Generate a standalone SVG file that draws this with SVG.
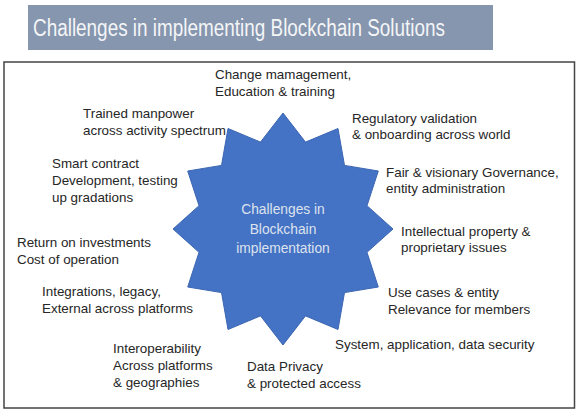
<svg xmlns="http://www.w3.org/2000/svg" width="583" height="416" viewBox="0 0 583 416">
<style>
.lbl{font-family:"Liberation Sans",Arial,sans-serif;font-size:13.4px;fill:#262626}
.ctr{font-family:"Liberation Sans",Arial,sans-serif;font-size:13.8px;fill:#dde3ee;text-anchor:middle}
</style>
<rect width="583" height="416" fill="#ffffff"/>
<g id="title">
<rect x="28" y="5" width="465" height="45" fill="#8696ae"/>
<text x="33" y="35.5" font-family="'Liberation Sans',Arial,sans-serif" font-size="23" fill="#f4f5f7" textLength="412" lengthAdjust="spacingAndGlyphs">Challenges in implementing Blockchain Solutions</text>
</g>
<rect id="frame" x="4" y="62" width="570.5" height="346" fill="none" stroke="#444" stroke-width="1.5"/>
<g id="connectors"/>
<g id="star">
<polygon points="283,113 305.5,142.1 338,128.5 344.5,165.4 378.3,171 367,205.7 393,229 367,252.3 378.3,287 344.5,292.6 338,329.5 305.5,315.9 283,345 260.5,315.9 228,329.5 221.5,292.6 187.7,287 199,252.3 173,229 199,205.7 187.7,171 221.5,165.4 228,128.5 260.5,142.1" fill="#4472c4" stroke="#3d67b3" stroke-width="1"/>
<text class="ctr" x="283" y="214">Challenges in</text>
<text class="ctr" x="283" y="233.5">Blockchain</text>
<text class="ctr" x="283" y="253">implementation</text>
</g>
<g id="n-change"><text class="lbl" x="215" y="79">Change mamagement,</text><text class="lbl" x="215" y="96">Education &amp; training</text></g>
<g id="n-trained"><text class="lbl" x="83" y="118">Trained manpower</text><text class="lbl" x="83" y="135">across activity spectrum</text></g>
<g id="n-smart"><text class="lbl" x="52" y="168">Smart contract</text><text class="lbl" x="52" y="185">Development, testing</text><text class="lbl" x="52" y="202">up gradations</text></g>
<g id="n-roi"><text class="lbl" x="17" y="247">Return on investments</text><text class="lbl" x="17" y="264">Cost of operation</text></g>
<g id="n-integ"><text class="lbl" x="42" y="296">Integrations, legacy,</text><text class="lbl" x="42" y="313">External across platforms</text></g>
<g id="n-interop"><text class="lbl" x="113" y="353">Interoperability</text><text class="lbl" x="113" y="370">Across platforms</text><text class="lbl" x="113" y="387">&amp; geographies</text></g>
<g id="n-privacy"><text class="lbl" x="247" y="371">Data Privacy</text><text class="lbl" x="247" y="388">&amp; protected access</text></g>
<g id="n-security"><text class="lbl" x="335" y="349">System, application, data security</text></g>
<g id="n-usecases"><text class="lbl" x="388" y="297">Use cases &amp; entity</text><text class="lbl" x="388" y="314">Relevance for members</text></g>
<g id="n-ip"><text class="lbl" x="401" y="236">Intellectual property &amp;</text><text class="lbl" x="401" y="252">proprietary issues</text></g>
<g id="n-gov"><text class="lbl" x="386" y="177">Fair &amp; visionary Governance,</text><text class="lbl" x="386" y="193">entity administration</text></g>
<g id="n-reg"><text class="lbl" x="352" y="123">Regulatory validation</text><text class="lbl" x="352" y="139">&amp; onboarding across world</text></g>
</svg>
